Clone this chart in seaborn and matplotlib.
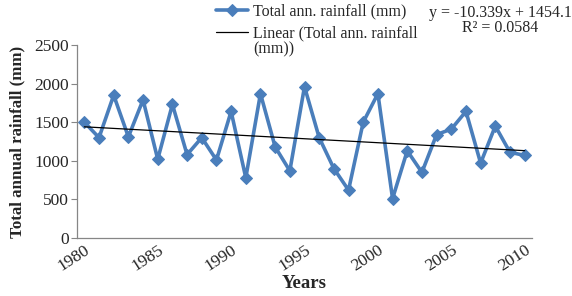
import numpy as np
import pandas as pd
import matplotlib
matplotlib.use("Agg")
import matplotlib.pyplot as plt
import seaborn as sns

years = list(range(1980, 2011))
rainfall = [1500, 1300, 1850, 1310, 1790, 1020, 1730, 1080, 1300, 1010,
            1640, 780, 1870, 1180, 870, 1960, 1300, 900, 620, 1500,
            1870, 510, 1130, 850, 1340, 1410, 1640, 970, 1450, 1110, 1070]
yticks = [0, 500, 1000, 1500, 2000, 2500]
xticks = [1980, 1985, 1990, 1995, 2000, 2005, 2010]
series_label = "Total ann. rainfall (mm)"
trend_label = "Linear (Total ann. rainfall"
trend_label_cont = "(mm))"
equation = "y = -10.339x + 1454.1\nR\u00b2 = 0.0584"

sns.set_theme(style="white")
plt.rcParams["font.family"] = ["Liberation Serif", "DejaVu Serif"]

df = pd.DataFrame({"Year": years, "Rain": rainfall})
idx = np.arange(1, len(years) + 1)
slope, intercept = np.polyfit(idx, df["Rain"], 1)
df["Trend"] = slope * idx + intercept

fig = plt.figure(figsize=(5.72, 2.96), dpi=100)
ax = fig.add_axes([77 / 572, 58 / 296, 455 / 572, 193 / 296])

blue = "#4A7EBB"
sns.lineplot(data=df, x="Year", y="Rain", ax=ax, color=blue, lw=2.6,
             marker="D", markersize=6.5, markeredgecolor=blue,
             label=series_label, legend=False)
sns.lineplot(data=df, x="Year", y="Trend", ax=ax, color="black", lw=0.9,
             label=trend_label, legend=False)

ax.set_xlim(1979.5, 2010.5)
ax.set_ylim(0, 2500)
ax.set_yticks(yticks)
ax.set_yticklabels([str(v) for v in yticks], fontsize=12.5)
ax.set_xticks(xticks)
ax.set_xticklabels([str(v) for v in xticks], fontsize=12.5, rotation=33,
                   ha="right", rotation_mode="anchor")
ax.tick_params(axis="y", length=4, width=0.8, color="#868686", pad=2, left=True)
ax.tick_params(axis="x", length=0, pad=3)
for s in ["top", "right"]:
    ax.spines[s].set_visible(False)
for s in ["left", "bottom"]:
    ax.spines[s].set_color("#868686")
    ax.spines[s].set_linewidth(0.9)

ax.set_xlabel("Years", fontsize=13.5, fontweight="bold", labelpad=0)
ax.set_ylabel("Total annual rainfall (mm)", fontsize=12.2, fontweight="bold", labelpad=6)

handles, labels = ax.get_legend_handles_labels()
fig.legend(handles, labels, loc="upper left", bbox_to_anchor=(210 / 572, 1 + 3 / 296),
           frameon=False, fontsize=11.5, handlelength=2.0, handletextpad=0.3,
           labelspacing=0.4, borderaxespad=0)
fig.text(253 / 572, 1 - 49 / 296, trend_label_cont, ha="left", va="center",
         fontsize=11.5)

fig.text(500 / 572, 1 - 5 / 296, equation, ha="center", va="top",
         fontsize=11.5, linespacing=0.95)

fig.savefig("out.png", dpi=100)
